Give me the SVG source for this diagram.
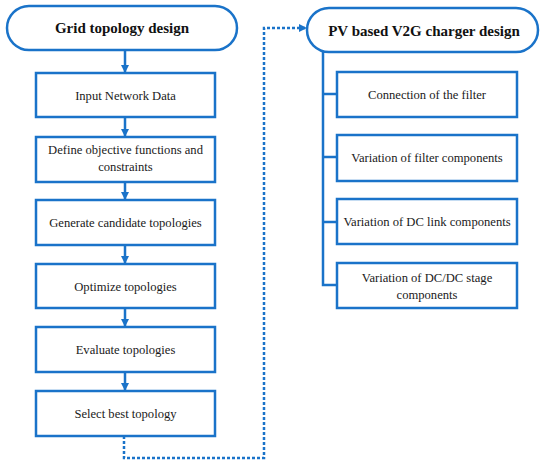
<svg xmlns="http://www.w3.org/2000/svg" width="550" height="466" viewBox="0 0 550 466">
<style>
.box{fill:#fff;stroke:#1a73c9;stroke-width:2.5}
.t{font-family:"Liberation Serif","Times New Roman",serif;font-size:12.6px;fill:#1a1a1a;text-anchor:middle}
.h{font-family:"Liberation Serif","Times New Roman",serif;font-size:15px;font-weight:bold;fill:#111;text-anchor:middle}
.ln{fill:none;stroke:#1a73c9;stroke-width:2.5}
.ds{fill:none;stroke:#1a73c9;stroke-width:2.5;stroke-dasharray:3 2}
</style>
<defs>
<marker id="ah" viewBox="0 0 10 10" refX="10" refY="5" markerWidth="3.4" markerHeight="3.4" orient="auto" markerUnits="strokeWidth">
<path d="M0,0 L10,5 L0,10 z" fill="#1a73c9"/>
</marker>
</defs>
<rect width="550" height="466" fill="#fff"/>
<g id="connectors">
<line class="ln" x1="125" y1="50" x2="125" y2="73" marker-end="url(#ah)"/>
<line class="ln" x1="125" y1="117" x2="125" y2="137" marker-end="url(#ah)"/>
<line class="ln" x1="125" y1="182" x2="125" y2="200" marker-end="url(#ah)"/>
<line class="ln" x1="125" y1="245" x2="125" y2="264" marker-end="url(#ah)"/>
<line class="ln" x1="125" y1="308" x2="125" y2="327" marker-end="url(#ah)"/>
<line class="ln" x1="125" y1="372" x2="125" y2="391" marker-end="url(#ah)"/>
<polyline class="ds" points="124,436 124,458 264,458 264,28 307,28" marker-end="url(#ah)"/>
<polyline class="ln" points="323,52 323,285 337,285"/>
<line class="ln" x1="323" y1="94" x2="337" y2="94"/>
<line class="ln" x1="323" y1="157" x2="337" y2="157"/>
<line class="ln" x1="323" y1="222" x2="337" y2="222"/>
</g>
<g id="grid-topology-design">
<rect class="box" x="7" y="6" width="230" height="44" rx="22"/>
<text class="h" x="122" y="33">Grid topology design</text>
</g>
<g id="input-network-data">
<rect class="box" x="36" y="73" width="179" height="44"/>
<text class="t" x="125.5" y="100">Input Network Data</text>
</g>
<g id="define-objective">
<rect class="box" x="36" y="137" width="179" height="45"/>
<text class="t" x="125.5" y="154">Define objective functions and</text>
<text class="t" x="125.5" y="171">constraints</text>
</g>
<g id="generate-candidates">
<rect class="box" x="36" y="200" width="179" height="45"/>
<text class="t" x="125.5" y="227">Generate candidate topologies</text>
</g>
<g id="optimize-topologies">
<rect class="box" x="36" y="264" width="179" height="44"/>
<text class="t" x="125.5" y="291">Optimize topologies</text>
</g>
<g id="evaluate-topologies">
<rect class="box" x="36" y="327" width="179" height="45"/>
<text class="t" x="125.5" y="354">Evaluate topologies</text>
</g>
<g id="select-best-topology">
<rect class="box" x="36" y="391" width="179" height="45"/>
<text class="t" x="125.5" y="418">Select best topology</text>
</g>
<g id="pv-v2g-charger-design">
<rect class="box" x="307" y="8" width="231" height="44" rx="22"/>
<text class="h" x="424" y="36">PV based V2G charger design</text>
</g>
<g id="connection-filter">
<rect class="box" x="337" y="72" width="180" height="45"/>
<text class="t" x="427" y="99">Connection of the filter</text>
</g>
<g id="variation-filter">
<rect class="box" x="337" y="135" width="180" height="46"/>
<text class="t" x="427" y="162">Variation of filter components</text>
</g>
<g id="variation-dc-link">
<rect class="box" x="337" y="199" width="180" height="45"/>
<text class="t" x="427" y="226">Variation of DC link components</text>
</g>
<g id="variation-dcdc-stage">
<rect class="box" x="337" y="263" width="180" height="45"/>
<text class="t" x="427" y="282">Variation of DC/DC stage</text>
<text class="t" x="427" y="299">components</text>
</g>
</svg>
